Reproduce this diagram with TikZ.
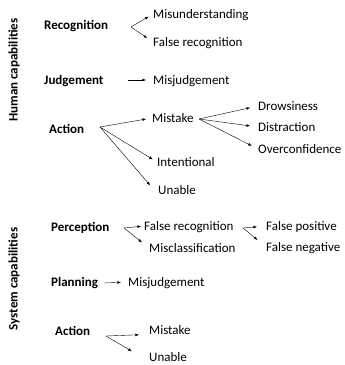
\documentclass[tikz,border=0pt]{standalone}
\usepackage{fontspec}
\setmainfont{Carlito}
\usetikzlibrary{positioning,arrows.meta}
\tikzset{cat node/.style={font=\fontsize{13}{15}\selectfont\bfseries, anchor=west, inner sep=0pt, text height=8.4pt, text depth=0pt}, }
\tikzset{item node/.style={font=\fontsize{13}{15}\selectfont, anchor=west, inner sep=0pt, text height=8.4pt, text depth=0pt}, }
\tikzset{side node/.style={font=\fontsize{13}{15}\selectfont\bfseries, rotate=90, inner sep=0pt}, }
\tikzset{arrow line/.style={-{Latex[length=3.6pt,width=2.8pt]}, line width=0.4pt}, }

\begin{document}
\begin{tikzpicture}[x=1pt,y=-1pt]
	\useasboundingbox (0,0) rectangle (345,365);
	% human capabilities
	\node[side node] (human) at (14,70) {Human capabilities};
	\node[cat node] (rec) at (44,25) {Recognition};
	\node[item node] (misund) at (153,14) {Misunderstanding};
	\node[item node] (falserec) at (153,42) {False recognition};
	\node[cat node] (judge) at (44,80) {Judgement};
	\node[item node] (misjudge) at (153,80) {Misjudgement};
	\node[cat node] (act) at (49,129) {Action};
	\node[item node] (mistake) at (152,118) {Mistake};
	\node[item node] (drowsy) at (258,106) {Drowsiness};
	\node[item node] (distract) at (258,127) {Distraction};
	\node[item node] (overconf) at (258,149) {Overconfidence};
	\node[item node] (intent) at (157,162) {Intentional};
	\node[item node] (unable) at (158,190) {Unable};
	% system capabilities
	\node[side node] (system) at (14,279) {System capabilities};
	\node[cat node] (perc) at (51,227) {Perception};
	\node[item node] (falserec2) at (144,226) {False recognition};
	\node[item node] (miscl) at (149,248) {Misclassification};
	\node[item node] (falsepos) at (266,226) {False positive};
	\node[item node] (falseneg) at (266,247) {False negative};
	\node[cat node] (plan) at (51,282) {Planning};
	\node[item node] (misjudge2) at (128,282) {Misjudgement};
	\node[cat node] (act2) at (55,331) {Action};
	\node[item node] (mistake2) at (149,330) {Mistake};
	\node[item node] (unable2) at (149,357) {Unable};
	% fan points
	\coordinate (recfan) at (131,27);
	\coordinate (judgefan) at (128,80);
	\coordinate (actfan) at (100,127);
	\coordinate (mistakefan) at (199,119);
	\coordinate (percfan) at (124,228);
	\coordinate (fr2fan) at (243,228);
	\coordinate (planfan) at (104,283);
	\coordinate (act2fan) at (106,336);
	\path[arrow line]
		(recfan) edge[shorten >=5pt] (misund.west)
		(recfan) edge[shorten >=7pt] (falserec.west)
		(judgefan) edge[shorten >=7pt] (misjudge.west)
		(actfan) edge[shorten >=6pt] (mistake.west)
		(mistakefan) edge[shorten >=8pt] (drowsy.west)
		(mistakefan) edge[shorten >=8pt] (distract.west)
		(mistakefan) edge[shorten >=7pt] (overconf.west)
		(actfan) edge[shorten >=5pt] (intent.west)
		(actfan) edge[shorten >=12pt] (unable.south west)
		(percfan) edge[shorten >=3pt] (falserec2.west)
		(percfan) edge[shorten >=9pt] (miscl.west)
		(fr2fan) edge[shorten >=9pt] (falsepos.west)
		(fr2fan) edge[shorten >=11pt] (falseneg.west)
		(planfan) edge[shorten >=7pt] (misjudge2.west)
		(act2fan) edge[shorten >=10pt] (mistake2.south west)
		(act2fan) edge[shorten >=20pt] (unable2.south west)
		;
\end{tikzpicture}
\end{document}
